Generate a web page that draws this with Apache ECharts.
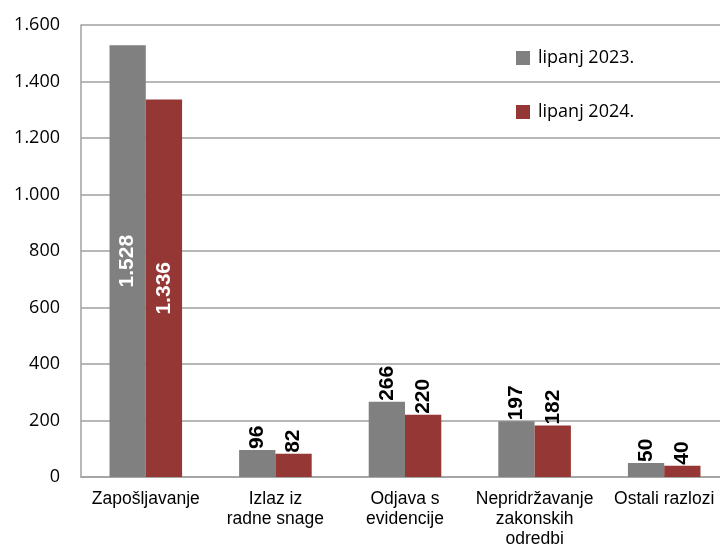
<!DOCTYPE html>
<html>
<head>
<meta charset="utf-8">
<script src="https://cdn.jsdelivr.net/npm/echarts@6/dist/echarts.min.js"></script>
<style>
  html, body { margin: 0; padding: 0; background: #fff; }
  #chart { width: 720px; height: 548px; }
</style>
</head>
<body>
<div id="chart"></div>
<script>
// kategorije i vrijednosti
const categories = ['Zapošljavanje', 'Izlaz iz\nradne snage', 'Odjava s\nevidencije', 'Nepridržavanje\nzakonskih\nodredbi', 'Ostali razlozi']
const seriesNames = ['lipanj 2023.', 'lipanj 2024.']
const values2023 = [1528, 96, 266, 197, 50]
const values2024 = [1336, 82, 220, 182, 40]
const yTicks = [0, 200, 400, 600, 800, 1000, 1200, 1400, 1600]

const colors = ['#808080', '#953735']

// tisuće odvojene točkom
const fmt = v => String(v).replace(/\B(?=(\d{3})+(?!\d))/g, '.')

const chart = echarts.init(document.getElementById('chart'))

const makeData = (arr) => arr.map((v, i) => {
  if (i === 0) {
    // prvi stupac ima oznaku unutar stupca
    return { value: v, label: { position: 'inside', align: 'center', color: '#fff' } }
  }
  return v
})

const makeSeries = (name, arr, color) => ({
  name,
  type: 'bar',
  data: makeData(arr),
  barGap: 0,
  barCategoryGap: '44%',
  itemStyle: { color },
  label: {
    show: true,
    position: 'top',
    rotate: 90,
    align: 'left',
    verticalAlign: 'middle',
    distance: 1,
    color: '#000',
    fontFamily: 'Liberation Sans, Arial, sans-serif',
    fontWeight: 'bold',
    fontSize: 21,
    formatter: p => fmt(p.value)
  }
})

const option = {
  animation: false,
  textStyle: { fontFamily: 'Liberation Sans, Arial, sans-serif' },
  // područje crtanja izlazi malo preko desnog ruba kao u originalu
  grid: { left: 81, top: 25, width: 648, bottom: 71, outerBoundsMode: 'none' },
  legend: {
    data: seriesNames,
    orient: 'vertical',
    left: 511,
    top: 44,
    itemGap: 36,
    itemWidth: 14,
    itemHeight: 14,
    icon: 'rect',
    textStyle: { fontSize: 18, color: '#000', fontFamily: 'Open Sans, sans-serif', padding: [0, 0, 0, 3] }
  },
  xAxis: {
    type: 'category',
    data: categories,
    axisLine: { lineStyle: { color: '#a0a0a0', width: 1.5 } },
    axisTick: { show: false },
    axisLabel: {
      color: '#000',
      fontSize: 17.5,
      lineHeight: 20,
      interval: 0,
      margin: 12
    }
  },
  yAxis: {
    type: 'value',
    min: 0,
    max: 1600,
    interval: 200,
    axisLine: { show: true, lineStyle: { color: '#a0a0a0', width: 1.5 } },
    axisTick: { show: false },
    splitLine: { lineStyle: { color: '#a0a0a0', width: 1.5 } },
    axisLabel: {
      color: '#000',
      fontSize: 18,
      margin: 21,
      fontFamily: 'Open Sans, sans-serif',
      formatter: v => yTicks.includes(v) ? fmt(v) : ''
    }
  },
  series: [
    makeSeries(seriesNames[0], values2023, colors[0]),
    makeSeries(seriesNames[1], values2024, colors[1])
  ]
}

chart.setOption(option)
</script>
</body>
</html>
